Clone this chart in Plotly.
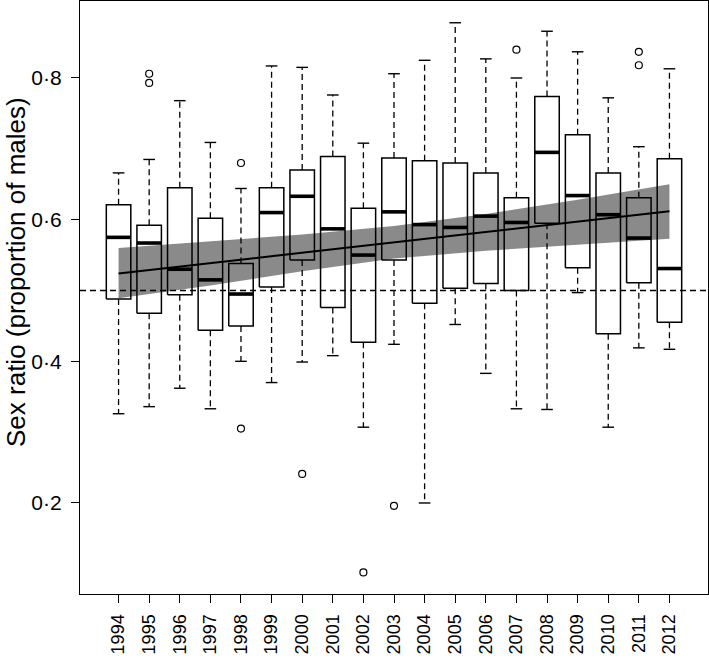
import plotly.graph_objects as go

# per-year box summaries
YEARS = list(range(1994, 2013))
UPPER_WHISKER = [0.666, 0.685, 0.768, 0.709, 0.644, 0.817, 0.815, 0.776, 0.708, 0.806,
                 0.825, 0.878, 0.827, 0.800, 0.866, 0.837, 0.772, 0.703, 0.813]
Q3 = [0.621, 0.592, 0.645, 0.602, 0.538, 0.645, 0.670, 0.689, 0.616, 0.687,
      0.683, 0.680, 0.666, 0.631, 0.774, 0.720, 0.666, 0.631, 0.686]
MEDIAN = [0.575, 0.567, 0.530, 0.515, 0.495, 0.610, 0.633, 0.587, 0.550, 0.611,
          0.593, 0.589, 0.605, 0.596, 0.695, 0.634, 0.607, 0.574, 0.531]
Q1 = [0.488, 0.468, 0.494, 0.444, 0.450, 0.505, 0.543, 0.476, 0.427, 0.543,
      0.482, 0.503, 0.510, 0.500, 0.595, 0.532, 0.439, 0.511, 0.455]
LOWER_WHISKER = [0.326, 0.336, 0.362, 0.333, 0.400, 0.370, 0.399, 0.408, 0.307, 0.424,
                 0.200, 0.452, 0.383, 0.333, 0.332, 0.497, 0.307, 0.419, 0.417]

OUTLIER_YEARS = [1995, 1995, 1998, 1998, 2000, 2002, 2003, 2007, 2011, 2011]
OUTLIER_VALUES = [0.806, 0.793, 0.680, 0.305, 0.241, 0.102, 0.196, 0.840, 0.837, 0.818]

# fitted trend and its confidence band
FIT_YEARS = [1994, 2012]
FIT_VALUES = [0.524, 0.612]
BAND_YEARS = [1994, 1997, 2000, 2003, 2006, 2009, 2012]
BAND_UPPER = [0.560, 0.569, 0.579, 0.591, 0.608, 0.628, 0.650]
BAND_LOWER = [0.489, 0.507, 0.527, 0.545, 0.556, 0.565, 0.573]

Y_TICKS = [0.2, 0.4, 0.6, 0.8]
Y_TICK_TEXT = ["0·2", "0·4", "0·6", "0·8"]
Y_TITLE = "Sex ratio (proportion of males)"

HALF_BOX = 0.4
HALF_CAP = 0.19
FONT = "Liberation Sans, Arial, Helvetica, sans-serif"


def segments(pairs):
    xs, ys = [], []
    for (x0, y0, x1, y1) in pairs:
        xs += [x0, x1, None]
        ys += [y0, y1, None]
    return xs, ys


fig = go.Figure()

# confidence band
fig.add_trace(go.Scatter(x=BAND_YEARS, y=BAND_LOWER, mode="lines",
                         line=dict(width=0, color="#8a8a8a"), hoverinfo="skip"))
fig.add_trace(go.Scatter(x=BAND_YEARS, y=BAND_UPPER, mode="lines", fill="tonexty",
                         fillcolor="#8a8a8a", line=dict(width=0, color="#8a8a8a"),
                         hoverinfo="skip"))

# dashed whiskers
wx, wy = segments([(yr, q3, yr, up) for yr, q3, up in zip(YEARS, Q3, UPPER_WHISKER)] +
                  [(yr, q1, yr, lo) for yr, q1, lo in zip(YEARS, Q1, LOWER_WHISKER)])
fig.add_trace(go.Scatter(x=wx, y=wy, mode="lines",
                         line=dict(color="black", width=1.3, dash="6px,4px")))

# whisker caps
cx, cy = segments([(yr - HALF_CAP, v, yr + HALF_CAP, v)
                   for yr, v in zip(YEARS + YEARS, UPPER_WHISKER + LOWER_WHISKER)])
fig.add_trace(go.Scatter(x=cx, y=cy, mode="lines", line=dict(color="black", width=1.4)))

# boxes (unfilled)
bx, by = [], []
for yr, q1, q3 in zip(YEARS, Q1, Q3):
    bx += [yr - HALF_BOX, yr + HALF_BOX, yr + HALF_BOX, yr - HALF_BOX, yr - HALF_BOX, None]
    by += [q1, q1, q3, q3, q1, None]
fig.add_trace(go.Scatter(x=bx, y=by, mode="lines", line=dict(color="black", width=1.5)))

# medians
mx, my = segments([(yr - HALF_BOX, m, yr + HALF_BOX, m) for yr, m in zip(YEARS, MEDIAN)])
fig.add_trace(go.Scatter(x=mx, y=my, mode="lines", line=dict(color="black", width=3.6)))

# outliers
fig.add_trace(go.Scatter(x=OUTLIER_YEARS, y=OUTLIER_VALUES, mode="markers",
                         marker=dict(symbol="circle-open", size=7, color="black",
                                     line=dict(width=1.2))))

# trend line
fig.add_trace(go.Scatter(x=FIT_YEARS, y=FIT_VALUES, mode="lines",
                         line=dict(color="black", width=2)))

fig.add_hline(y=0.5, line=dict(color="black", width=1.3, dash="6px,4px"))

fig.add_annotation(text=Y_TITLE, xref="paper", yref="paper", x=0, y=0.543,
                   xanchor="center", yanchor="middle", xshift=-64, textangle=-90,
                   showarrow=False, font=dict(family=FONT, size=26, color="black"))

axis_common = dict(showline=True, linecolor="black", linewidth=1.3, mirror=True,
                   ticks="outside", ticklen=8, tickwidth=1.3, tickcolor="black",
                   showgrid=False, zeroline=False, automargin=False)

fig.update_layout(
    width=709, height=658,
    margin=dict(l=80, r=1, t=1, b=64, autoexpand=False),
    paper_bgcolor="white", plot_bgcolor="white",
    showlegend=False,
    font=dict(family=FONT, color="black"),
    xaxis=dict(range=[1992.74, 2013.26], tickvals=YEARS, ticktext=[str(y) for y in YEARS],
               tickangle=-90, tickfont=dict(size=18), ticklabelstandoff=4, **axis_common),
    yaxis=dict(range=[0.0715, 0.9087], tickvals=Y_TICKS, ticktext=Y_TICK_TEXT,
               tickfont=dict(size=21), ticklabelstandoff=5, **axis_common),
)

# drop the browser's default body margin so the figure sits at the page corner
fig.write_html("out.html", config={"displayModeBar": False},
               post_script="document.body.style.margin='0';")
